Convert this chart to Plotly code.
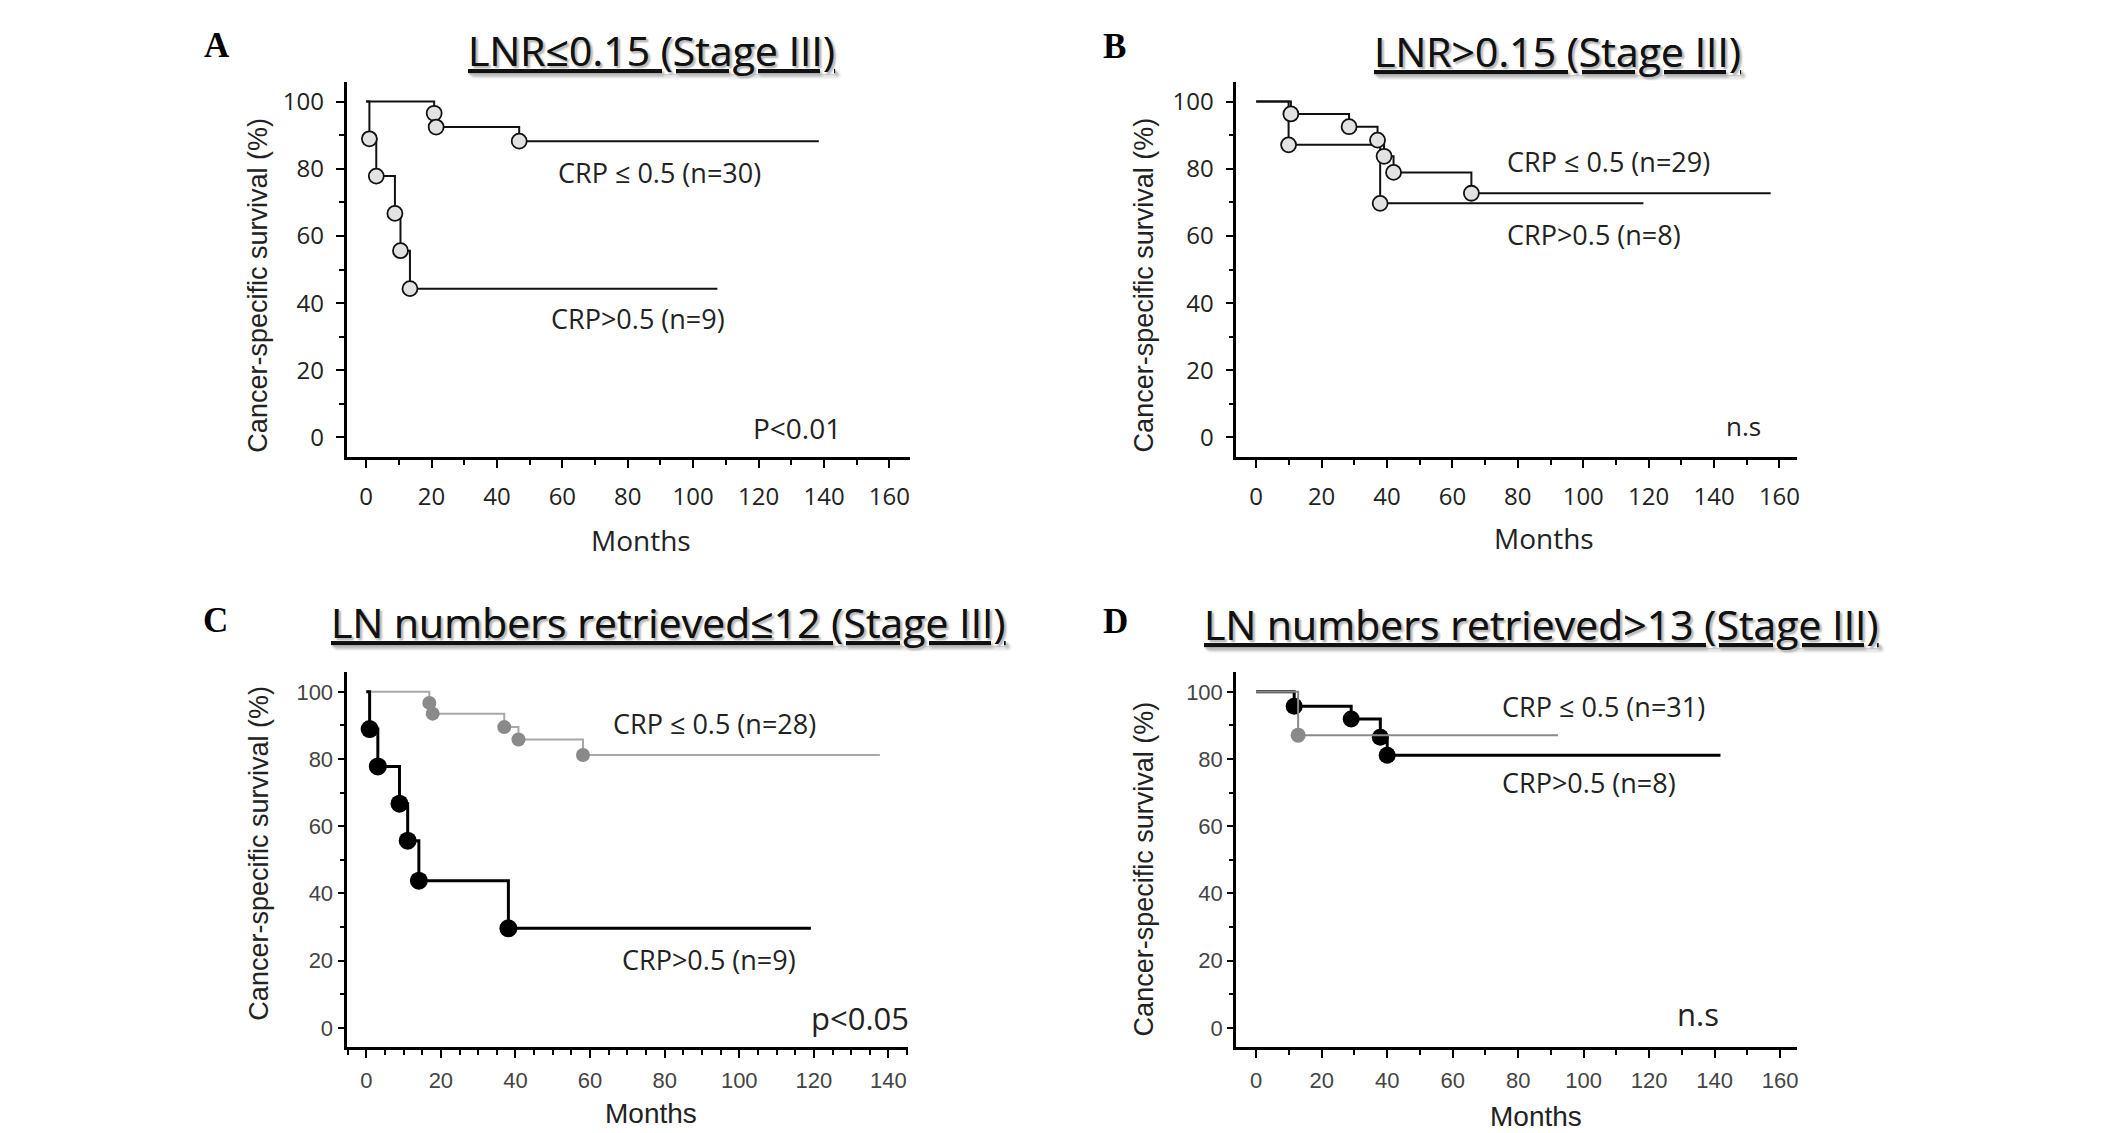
import plotly.graph_objects as go

W, H = 2126, 1133

# ---- data (months, survival %) ----
# A: LNR<=0.15 (Stage III)
a_low_t = [20.8, 21.4, 46.8]
a_low_s = [96.5, 92.4, 88.2]
a_low_end = 138.4
a_high_t = [1.0, 3.1, 8.8, 10.5, 13.4]
a_high_s = [88.9, 77.8, 66.7, 55.6, 44.3]
a_high_end = 107.4

# B: LNR>0.15 (Stage III)
b_low_t = [10.6, 28.4, 37.1, 39.1, 42.0, 65.8]
b_low_s = [96.3, 92.5, 88.5, 83.7, 78.9, 72.7]
b_low_end = 157.3
b_high_t = [9.9, 37.9]
b_high_s = [87.1, 69.7]
b_high_end = 118.4

# C: LN numbers retrieved<=12 (Stage III)
c_low_t = [16.9, 17.8, 37.0, 40.8, 58.1]
c_low_s = [96.7, 93.5, 89.5, 85.8, 81.2]
c_low_end = 137.7
c_high_t = [0.9, 3.1, 8.9, 11.1, 14.1, 38.1]
c_high_s = [88.9, 77.8, 66.7, 55.7, 43.8, 29.6]
c_high_end = 119.2

# D: LN numbers retrieved>13 (Stage III)
d_low_t = [11.6, 29.0, 37.9, 40.0]
d_low_s = [95.7, 91.9, 86.5, 81.1]
d_low_end = 141.8
d_high_t = [12.8]
d_high_s = [87.1]
d_high_end = 92.2

panel_letters = ["A", "B", "C", "D"]
panel_titles = [
    "LNR≤0.15 (Stage III)",
    "LNR>0.15 (Stage III)",
    "LN numbers retrieved≤12 (Stage III)",
    "LN numbers retrieved>13 (Stage III)",
]
p_texts = ["P<0.01", "n.s", "p<0.05", "n.s"]
low_labels = ["CRP ≤ 0.5 (n=30)", "CRP ≤ 0.5 (n=29)", "CRP ≤ 0.5 (n=28)", "CRP ≤ 0.5 (n=31)"]
high_labels = ["CRP>0.5 (n=9)", "CRP>0.5 (n=8)", "CRP>0.5 (n=9)", "CRP>0.5 (n=8)"]

y_title = "Cancer-specific survival (%)"
x_title = "Months"


def px(x):
    return x / W


def py(y):
    return 1 - y / H


def km_traces(t, s, end, xa, ya, line_color, line_width, m_fill, m_line, m_size):
    xs = [0] + list(t) + [end]
    ys = [100] + list(s) + [s[-1]]
    line = go.Scatter(x=xs, y=ys, mode="lines", line=dict(shape="hv", color=line_color, width=line_width),
                      xaxis=xa, yaxis=ya, showlegend=False, hoverinfo="skip")
    marks = go.Scatter(x=t, y=s, mode="markers",
                       marker=dict(size=m_size, color=m_fill, line=dict(color=m_line, width=m_line and 1.8 or 0)),
                       xaxis=xa, yaxis=ya, showlegend=False)
    return [line, marks]


fig = go.Figure()

# A and B: light gray circles with black outline on black lines
for t, s, end, xa, ya in [(a_low_t, a_low_s, a_low_end, "x", "y"),
                          (a_high_t, a_high_s, a_high_end, "x", "y"),
                          (b_high_t, b_high_s, b_high_end, "x2", "y2"),
                          (b_low_t, b_low_s, b_low_end, "x2", "y2")]:
    for tr in km_traces(t, s, end, xa, ya, "#111", 2, "#e2e2e2", "#111", 15):
        fig.add_trace(tr)

# C: gray low-CRP, black high-CRP
for tr in km_traces(c_low_t, c_low_s, c_low_end, "x3", "y3", "#a8a8a8", 2, "#8a8a8a", None, 14):
    fig.add_trace(tr)
for tr in km_traces(c_high_t, c_high_s, c_high_end, "x3", "y3", "#000", 3, "#000", None, 18):
    fig.add_trace(tr)

# D: black low-CRP, gray high-CRP
for tr in km_traces(d_low_t, d_low_s, d_low_end, "x4", "y4", "#000", 3, "#000", None, 17):
    fig.add_trace(tr)
for tr in km_traces(d_high_t, d_high_s, d_high_end, "x4", "y4", "#8a8a8a", 2, "#8a8a8a", None, 15):
    fig.add_trace(tr)

# axes
top = [py(457.3), py(81.7)]
bottom = [py(1047.3), py(672.0)]
panels = [
    dict(xd=[px(347), px(911)], yd=top, xr=[-6.0, 166.2], yr=[-5.9, 105.9], xminor=10),
    dict(xd=[px(1238), px(1800)], yd=top, xr=[-6.1, 165.5], yr=[-5.9, 105.9], xminor=10),
    dict(xd=[px(347), px(909.5)], yd=bottom, xr=[-5.3, 145.3], yr=[-5.8, 105.9], xminor=5),
    dict(xd=[px(1238), px(1800)], yd=bottom, xr=[-6.1, 165.3], yr=[-5.8, 105.9], xminor=10),
]

layout_axes = {}
for i, p in enumerate(panels):
    n = "" if i == 0 else str(i + 1)
    upper = i < 2
    tfont = dict(family="Open Sans", size=24, color="#222") if upper else \
        dict(family="Liberation Sans", size=22, color="#444")
    common = dict(showline=True, linecolor="#000", linewidth=2.5 if upper else 3, showgrid=False, zeroline=False,
                  ticks="outside", tickwidth=2, tickcolor="#000", tickfont=tfont, tick0=0, dtick=20)
    layout_axes["xaxis" + n] = dict(domain=p["xd"], range=p["xr"], anchor="y" + n, ticklen=8,
                                    minor=dict(dtick=p["xminor"], tick0=0, ticks="outside", ticklen=5,
                                               tickwidth=2, tickcolor="#000"),
                                    ticklabelstandoff=8 if upper else 3, **common)
    layout_axes["yaxis" + n] = dict(domain=p["yd"], range=p["yr"], anchor="x" + n, ticklen=8 if upper else 6,
                                    minor=dict(dtick=10, tick0=0, ticks="outside", ticklen=5 if upper else 4,
                                               tickwidth=2, tickcolor="#000"),
                                    ticklabelstandoff=7 if upper else 0, **common)

annotations = []
letter_pos = [(217, 46), (1116, 47), (216, 620), (1117, 621)]
title_pos = [(652, 50), (1560, 51), (669, 622), (1544, 624)]
ytitle_pos = [(258, 285), (1146, 285), (259, 853), (1146, 869)]
xtitle_pos = [(642, 540), (1546, 538), (652, 1113), (1538, 1116)]
for i in range(4):
    upper = i < 2
    centred = dict(xref="paper", yref="paper", xanchor="center", yanchor="middle", showarrow=False)
    annotations.append(dict(text=panel_letters[i], x=px(letter_pos[i][0]), y=py(letter_pos[i][1]),
                            font=dict(family="Liberation Serif", size=35, color="#000", weight="bold"),
                            **centred))
    annotations.append(dict(text=panel_titles[i], x=px(title_pos[i][0]), y=py(title_pos[i][1]),
                            font=dict(family="Open Sans", size=41, color="#111", lineposition="under",
                                      shadow="2px 2px 2px #bbb"), **centred))
    annotations.append(dict(text=y_title, textangle=-90, x=px(ytitle_pos[i][0]), y=py(ytitle_pos[i][1]),
                            font=dict(family="Liberation Sans", size=27, color="#222"), **centred))
    annotations.append(dict(text=x_title, x=px(xtitle_pos[i][0]), y=py(xtitle_pos[i][1]),
                            font=dict(family="Open Sans" if upper else "Liberation Sans", size=28, color="#222"),
                            **centred))

# in-plot labels (data coordinates)
label_font = dict(family="Open Sans", size=27, color="#222")
low_pos = [(58, 79), (76, 82), (65.7, 90.5), (74.4, 95.5)]
high_pos = [(56, 35.3), (76, 60.5), (67.9, 20.4), (74.4, 73.0)]
p_pos = [(131.7, 2.7), (149, 3.5), (132.3, 3.0), (135, 4.0)]
p_size = [28, 26, 31, 31]
for i in range(4):
    n = "" if i == 0 else str(i + 1)
    annotations.append(dict(text=low_labels[i], xref="x" + n, yref="y" + n, x=low_pos[i][0], y=low_pos[i][1],
                            xanchor="left", yanchor="middle", showarrow=False, font=label_font))
    annotations.append(dict(text=high_labels[i], xref="x" + n, yref="y" + n, x=high_pos[i][0], y=high_pos[i][1],
                            xanchor="left", yanchor="middle", showarrow=False, font=label_font))
    annotations.append(dict(text=p_texts[i], xref="x" + n, yref="y" + n, x=p_pos[i][0], y=p_pos[i][1],
                            xanchor="center", yanchor="middle", showarrow=False,
                            font=dict(family="Open Sans", size=p_size[i], color="#222")))

fig.update_layout(width=W, height=H, margin=dict(l=0, r=0, t=0, b=0), plot_bgcolor="white",
                  paper_bgcolor="white", showlegend=False, annotations=annotations, **layout_axes)

# the page body has a default 8px margin; drop it so the figure sits at the window's corner
fig.write_html("out.html", config={"displayModeBar": False},
               post_script="document.body.style.margin='0';document.body.style.overflow='hidden';")
